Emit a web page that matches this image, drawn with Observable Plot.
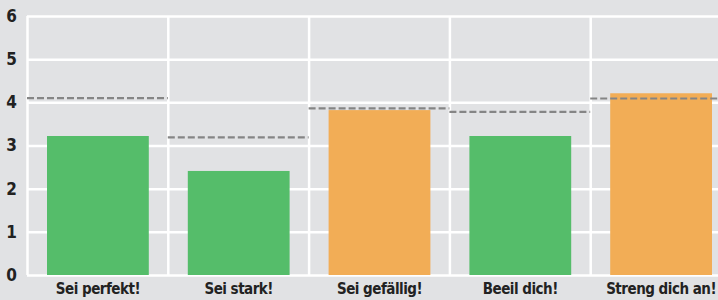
<!DOCTYPE html>
<html>
<head>
<meta charset="utf-8">
<script src="https://cdn.jsdelivr.net/npm/d3@7"></script>
<script src="https://cdn.jsdelivr.net/npm/@observablehq/plot@0.6"></script>
<style>
  html, body { margin: 0; padding: 0; background: #e1e2e4; overflow: hidden; }
  #chart svg { overflow: hidden; }
  #chart text { letter-spacing: -0.5px; }
</style>
</head>
<body>
<div id="chart"></div>
<script>
const categories = ["Sei perfekt!", "Sei stark!", "Sei gefällig!", "Beeil dich!", "Streng dich an!"];
const values = [3.22, 2.41, 3.82, 3.22, 4.21];
const references = [4.11, 3.20, 3.87, 3.79, 4.10];
const groups = ["green", "green", "orange", "green", "orange"];
const yTicks = [0, 1, 2, 3, 4, 5, 6];

const colors = { green: "#55bd6a", orange: "#f2ad56" };
const data = categories.map((c, i) => ({ cat: c, i, value: values[i], ref: references[i], group: groups[i] }));
const font = "'DejaVu Sans Condensed', 'Liberation Sans Narrow', sans-serif";

const chart = Plot.plot({
  width: 718,
  height: 300,
  marginLeft: 27,
  marginRight: 0,
  marginTop: 16,
  marginBottom: 25,
  style: { background: "#e1e2e4", fontFamily: font, fontWeight: "bold", color: "#222" },
  x: { domain: [0, categories.length], range: [27, 27 + 140.8 * categories.length], axis: null },
  y: { domain: [0, 6], axis: null },
  marks: [
    Plot.ruleY(yTicks, { stroke: "#ffffff", strokeWidth: 2.5 }),
    Plot.ruleX(d3.range(categories.length + 1), { y1: 0, y2: 6, stroke: "#ffffff", strokeWidth: 2.5 }),
    Plot.rectY(data, {
      x1: "i", x2: d => d.i + 1, y1: 0, y2: "value",
      fill: d => colors[d.group], insetLeft: 20, insetRight: 19
    }),
    Plot.ruleY(data, {
      x1: "i", x2: d => d.i + 1, y: "ref",
      stroke: "#858585", strokeWidth: 2.2, strokeDasharray: "7,3"
    }),
    Plot.axisY(yTicks, {
      tickSize: 0, tickPadding: 11, fontSize: 17, fontWeight: "bold", fill: "#222",
      tickFormat: d => String(d)
    }),
    Plot.text(data, {
      x: d => d.i + 0.5, y: 0, text: "cat", dy: 14, lineAnchor: "middle",
      fontSize: 15, fontWeight: "bold", fill: "#222"
    })
  ]
});
document.getElementById("chart").appendChild(chart);
</script>
</body>
</html>
